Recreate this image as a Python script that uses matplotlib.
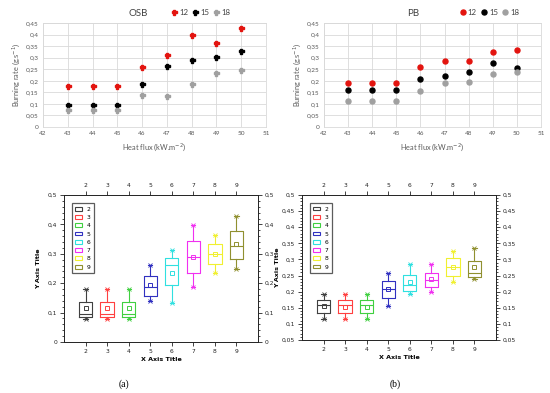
import matplotlib.pyplot as plt
from matplotlib.ticker import MultipleLocator, AutoMinorLocator, FuncFormatter
from matplotlib.patches import Patch

# heat flux values and burning rates for the three series (12, 15, 18)
heat_flux = [43, 44, 45, 46, 47, 48, 49, 50]
series_names = ["12", "15", "18"]
series_colors = ["#e3140f", "#000000", "#a0a0a0"]

osb_12 = [0.178, 0.178, 0.178, 0.260, 0.310, 0.397, 0.363, 0.428]
osb_15 = [0.097, 0.097, 0.097, 0.185, 0.262, 0.290, 0.303, 0.327]
osb_18 = [0.074, 0.074, 0.074, 0.138, 0.135, 0.185, 0.234, 0.248]

pb_12 = [0.192, 0.192, 0.192, 0.260, 0.287, 0.285, 0.325, 0.334]
pb_15 = [0.158, 0.158, 0.158, 0.207, 0.222, 0.237, 0.278, 0.257]
pb_18 = [0.113, 0.113, 0.113, 0.155, 0.192, 0.195, 0.228, 0.239]

# box plot stats per category: min, q1, median, q3, max, mean
box_pos = [2, 3, 4, 5, 6, 7, 8, 9]
box_colors = ["#404040", "#ff4040", "#40d040", "#3030c0",
              "#30e0e0", "#f030f0", "#f0f030", "#909030"]

osb_min = [0.077, 0.077, 0.077, 0.140, 0.134, 0.186, 0.233, 0.248]
osb_q1 = [0.084, 0.084, 0.084, 0.158, 0.193, 0.233, 0.264, 0.284]
osb_med = [0.095, 0.095, 0.095, 0.187, 0.261, 0.288, 0.301, 0.326]
osb_q3 = [0.137, 0.137, 0.137, 0.223, 0.286, 0.343, 0.332, 0.378]
osb_max = [0.180, 0.180, 0.180, 0.261, 0.312, 0.397, 0.364, 0.427]
osb_mean = [0.116, 0.116, 0.116, 0.193, 0.235, 0.288, 0.300, 0.333]

pb_min = [0.114, 0.114, 0.114, 0.157, 0.193, 0.200, 0.231, 0.240]
pb_q1 = [0.133, 0.133, 0.133, 0.179, 0.203, 0.213, 0.249, 0.244]
pb_med = [0.159, 0.159, 0.159, 0.208, 0.221, 0.236, 0.278, 0.257]
pb_q3 = [0.174, 0.174, 0.174, 0.232, 0.252, 0.259, 0.303, 0.296]
pb_max = [0.193, 0.193, 0.193, 0.259, 0.285, 0.285, 0.326, 0.334]
pb_mean = [0.155, 0.153, 0.153, 0.207, 0.231, 0.238, 0.277, 0.276]


def comma(v, pos):
    s = ("%.2f" % v).rstrip("0").rstrip(".")
    return s.replace(".", ",")


fmt = FuncFormatter(comma)

fig = plt.figure(figsize=(5.5, 3.93), dpi=100)


def scatter_panel(rect, title, data, marker, title_x, leg_x):
    ax = fig.add_axes(rect)
    for vals, name, col in zip(data, series_names, series_colors):
        ax.plot(heat_flux, vals, linestyle="none", marker=marker, color=col,
                markersize=3.6, label=name)
    ax.set_xlim(42, 51)
    ax.set_ylim(0, 0.45)
    ax.xaxis.set_major_locator(MultipleLocator(1))
    ax.yaxis.set_major_locator(MultipleLocator(0.05))
    ax.yaxis.set_major_formatter(fmt)
    ax.grid(True, color="#d9d9d9", linewidth=0.6)
    ax.set_axisbelow(True)
    for s in ax.spines.values():
        s.set_color("#d9d9d9")
        s.set_linewidth(0.6)
    ax.tick_params(length=0, labelsize=4.6, colors="#595959", pad=3)
    ax.set_xlabel("Heat flux (kW.m$^{-2}$)", fontsize=5.3, color="#595959",
                  family="Lato", labelpad=4)
    ax.set_ylabel("Burning rate (g.s$^{-1}$)", fontsize=5.3, color="#595959",
                  family="Lato", labelpad=3)
    for lab in ax.get_xticklabels() + ax.get_yticklabels():
        lab.set_family("Lato")
    fig.text(title_x, 0.965, title, fontsize=7, color="#404040", family="Lato",
             ha="center", va="center")
    ax.legend(loc="center right", bbox_to_anchor=(leg_x, 1.105), ncol=3,
              frameon=False, handlelength=0.7, handletextpad=0.25,
              columnspacing=0.6, borderpad=0.1, labelcolor="#404040",
              markerscale=1.0, prop={"family": "Lato", "size": 5.6})
    return ax


scatter_panel([43 / 550, 1 - 127 / 393, 223 / 550, 104 / 393], "OSB",
              [osb_12, osb_15, osb_18], "P", 138 / 550, 0.86)
scatter_panel([324 / 550, 1 - 127 / 393, 217 / 550, 104 / 393], "PB",
              [pb_12, pb_15, pb_18], "o", 413 / 550, 0.92)


def box_panel(rect, stats, ylim, major, ypad):
    mins, q1s, meds, q3s, maxs, means = stats
    ax = fig.add_axes(rect)
    bxs = []
    for i in range(len(box_pos)):
        bxs.append({"whislo": mins[i], "q1": q1s[i], "med": meds[i],
                    "q3": q3s[i], "whishi": maxs[i], "mean": means[i]})
    parts = ax.bxp(bxs, positions=box_pos, widths=0.62, showmeans=True,
                   showfliers=False, manage_ticks=False)
    for i, col in enumerate(box_colors):
        parts["boxes"][i].set(color=col, linewidth=0.8)
        parts["medians"][i].set(color=col, linewidth=0.8)
        for w in parts["whiskers"][2 * i:2 * i + 2]:
            w.set(color=col, linewidth=0.8)
        for c in parts["caps"][2 * i:2 * i + 2]:
            c.set(color=col, linewidth=0.8, xdata=[box_pos[i] - 0.1, box_pos[i] + 0.1])
        parts["means"][i].set(marker="s", markerfacecolor="none",
                              markeredgecolor=col, markersize=3.2,
                              markeredgewidth=0.7)
        ax.plot([box_pos[i]] * 2, [mins[i], maxs[i]], linestyle="none",
                marker="x", color=col, markersize=2.6, markeredgewidth=0.6)
    ax.set_xlim(1, 10)
    ax.set_ylim(*ylim)
    ax.set_xticks(box_pos)
    ax.yaxis.set_major_locator(MultipleLocator(major))
    ax.yaxis.set_minor_locator(AutoMinorLocator(5))
    ax.yaxis.set_major_formatter(fmt)
    ax.tick_params(direction="out", labelsize=4.3, colors="#222222",
                   top=True, right=True, labeltop=True, labelright=True,
                   length=3, width=0.6, pad=2)
    ax.tick_params(which="minor", direction="out", right=True, length=1.6, width=0.5)
    for s in ax.spines.values():
        s.set_linewidth(0.7)
        s.set_color("#222222")
    ax.set_xlabel("X Axis Title", fontsize=4.6, fontweight="bold", labelpad=2)
    ax.set_ylabel("Y Axis Title", fontsize=4.6, fontweight="bold", labelpad=ypad)
    handles = [Patch(facecolor="none", edgecolor=c, linewidth=0.8, label=str(p))
               for c, p in zip(box_colors, box_pos)]
    leg = ax.legend(handles=handles, loc="upper left", fontsize=4.3,
                    handlelength=1.1, handleheight=0.6, handletextpad=0.8,
                    labelspacing=0.55, borderpad=0.6, fancybox=False,
                    bbox_to_anchor=(0.025, 0.965))
    leg.get_frame().set_edgecolor("#333333")
    leg.get_frame().set_linewidth(0.9)
    return ax


box_panel([64 / 550, 1 - 342 / 393, 194 / 550, 147 / 393],
          (osb_min, osb_q1, osb_med, osb_q3, osb_max, osb_mean), (0, 0.5), 0.1, 5)
box_panel([302 / 550, 1 - 340 / 393, 194 / 550, 145 / 393],
          (pb_min, pb_q1, pb_med, pb_q3, pb_max, pb_mean), (0.05, 0.5), 0.05, 1)

fig.text(124 / 550, 1 - 384 / 393, "(a)", fontsize=7, ha="center", va="center",
         family="Liberation Serif")
fig.text(395 / 550, 1 - 384 / 393, "(b)", fontsize=7, ha="center", va="center",
         family="Liberation Serif")

fig.savefig("out.png", dpi=100)
